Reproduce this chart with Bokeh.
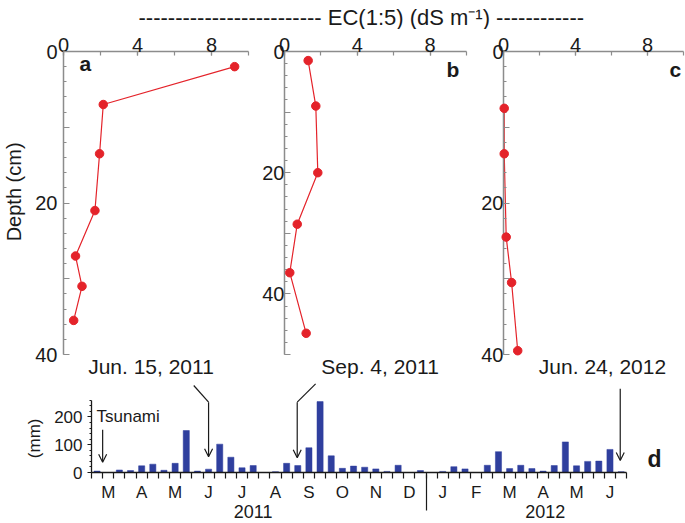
from bokeh.plotting import figure
from bokeh.layouts import column, row
from bokeh.models import Range1d, FixedTicker, Label, Arrow, OpenHead, LinearAxis
from bokeh.embed import file_html
from bokeh.resources import INLINE

FONT = "Liberation Sans"
RED = "#E4232A"
BLUE = "#2F3F9E"
GRAY = "#8C8C8C"
INK = "#1a1a1a"
NB = "\u00a0"

# ---- data -------------------------------------------------------------
# EC(1:5) profiles (dS m-1) vs depth (cm)
ec_a = [9.25, 2.15, 1.95, 1.7, 0.65, 1.0, 0.55]
depth_a = [2.0, 7.0, 13.5, 21.0, 27.0, 31.0, 35.5]
ec_b = [1.3, 1.72, 1.83, 0.7, 0.29, 1.19]
depth_b = [1.5, 9.0, 20.0, 28.5, 36.5, 46.5]
ec_c = [0.04, 0.04, 0.15, 0.45, 0.79]
depth_c = [7.5, 13.5, 24.5, 30.5, 39.5]
panel_letters = ["a", "b", "c"]
sample_dates = ["Jun. 15, 2011", "Sep. 4, 2011", "Jun. 24, 2012"]
ec_tick_values = [0, 4, 8]
depth_tick_values = [0, 20, 40]

# dekadal rainfall (mm), Mar 2011 - Jun 2012
rain_mm = [5, 0, 9, 7, 24, 30, 8, 33, 151, 5, 12, 102, 55, 17, 25, 0,
           3, 33, 25, 89, 255, 60, 15, 23, 19, 13, 4, 26, 0, 7,
           0, 4, 21, 13, 0, 26, 75, 14, 26, 14, 5, 25, 110, 24, 40, 41, 83, 3]
month_labels = ["M", "A", "M", "J", "J", "A", "S", "O", "N", "D",
                "J", "F", "M", "A", "M", "J"]
year_labels = ["2011", "2012"]
rain_tick_values = [0, 100, 200]

TITLE = "-" * 25 + "  EC(1:5) (dS m\u207b\u00b9)  " + "-" * 12

# ---- layout geometry (page px) ---------------------------------------
TITLE_H = 29
TOP_H = 351
BOT_H = 143
FRAME_BOTTOM = TITLE_H + TOP_H - 24  # 356
D_LEFT = 91


def lab(p, fl, fb, px, py, text, size, **kw):
    p.add_layout(Label(x=px - fl, y=fb - py, x_units="screen", y_units="screen",
                       text=text, text_font=FONT, text_font_size=f"{size}px",
                       text_color=INK, **kw))


def profile(width, mbl, mbr, depth_max, ec, depth, standoff, date, date_x):
    p = figure(width=width, height=TOP_H, x_range=Range1d(0, 10),
               y_range=Range1d(depth_max, 0), x_axis_location="above",
               output_backend="svg", toolbar_location=None,
               min_border_left=mbl, min_border_right=mbr,
               min_border_top=22, min_border_bottom=24)
    p.grid.visible = False
    p.outline_line_color = None
    for ax in (p.xaxis[0], p.yaxis[0]):
        ax.axis_line_color = GRAY
        ax.axis_line_width = 1.5
        ax.major_tick_line_color = GRAY
        ax.minor_tick_line_color = GRAY
        ax.major_tick_line_width = 1.2
        ax.minor_tick_line_width = 1.2
        ax.major_tick_out = 0
        ax.minor_tick_out = 0
        ax.major_label_text_font = FONT
        ax.major_label_text_font_size = "20px"
        ax.major_label_text_color = INK
    xa = p.xaxis[0]
    xa.ticker = FixedTicker(ticks=ec_tick_values, minor_ticks=[0, 2, 4, 6, 8, 10])
    xa.major_tick_in = 4
    xa.minor_tick_in = 4
    xa.major_label_standoff = 0
    ya = p.yaxis[0]
    majors = list(range(0, depth_max + 1, 10))
    ya.ticker = FixedTicker(ticks=majors, minor_ticks=list(range(0, depth_max + 1, 2)))
    ya.major_label_overrides = {m: "" for m in majors if m not in depth_tick_values}
    ya.major_tick_in = 6
    ya.minor_tick_in = 3
    ya.major_label_standoff = standoff
    # sampling date written under the panel
    da = LinearAxis(ticker=FixedTicker(ticks=[date_x], minor_ticks=[]),
                    major_label_overrides={date_x: date},
                    axis_line_color=None, major_tick_in=0, major_tick_out=0,
                    minor_tick_in=0, minor_tick_out=0, major_label_standoff=0,
                    major_label_text_font=FONT, major_label_text_font_size="21px",
                    major_label_text_color=INK)
    p.add_layout(da, "below")
    p.line(ec, depth, line_color=RED, line_width=1.2)
    p.scatter(ec, depth, size=8.5, fill_color=RED, line_color=RED, level="overlay")
    return p


# title strip (frame aligned with panel d frame)
pt = figure(width=685, height=TITLE_H, x_range=Range1d(0, 1), y_range=Range1d(0, 1),
            x_axis_location=None, y_axis_location=None, output_backend="svg",
            toolbar_location=None, min_border=0, min_border_left=D_LEFT)
pt.grid.visible = False
pt.outline_line_color = None
lab(pt, D_LEFT, TITLE_H, 138, 17, TITLE, 22, text_baseline="middle")

# panel a : page x 0..251, frame 62..248
pa = profile(251, 62, 3, 40, ec_a, depth_a, 6, sample_dates[0], 4.73)
pa.yaxis[0].axis_label = NB * 4 + "Depth (cm)"
pa.yaxis[0].axis_label_standoff = 7
pa.yaxis[0].axis_label_text_font = FONT
pa.yaxis[0].axis_label_text_font_size = "20px"
pa.yaxis[0].axis_label_text_font_style = "normal"
pa.yaxis[0].axis_label_text_color = INK
lab(pa, 62, FRAME_BOTTOM, 78, 76, panel_letters[0], 21, text_font_style="bold")

# panel b : page x 251..470, frame 284..466
pb = profile(219, 33, 4, 50, ec_b, depth_b, 0, sample_dates[1], 5.25)
lab(pb, 284, FRAME_BOTTOM, 446, 82, panel_letters[1], 21, text_font_style="bold")

# panel c : page x 470..685, frame 503..683
pc = profile(215, 33, 2, 40, ec_c, depth_c, 0, sample_dates[2], 5.5)
lab(pc, 503, FRAME_BOTTOM, 669, 82, panel_letters[2], 21, text_font_style="bold")

# ---- rainfall panel d : page y 380..523, frame x 91..685, y 380..472 ----
N = len(rain_mm)
PX_PER_DEK = 11.15
PX_PER_MM = 0.278
pd_ = figure(width=685, height=BOT_H, x_range=Range1d(0, 594 / PX_PER_DEK),
             y_range=Range1d(0, 92 / PX_PER_MM), output_backend="svg",
             toolbar_location=None, min_border_left=D_LEFT, min_border_right=0,
             min_border_top=0, min_border_bottom=51)
pd_.grid.visible = False
pd_.outline_line_color = None
pd_.vbar(x=[i + 0.5 for i in range(N)], top=rain_mm, width=0.55,
         fill_color=BLUE, line_color=BLUE, line_width=0.5)

xa = pd_.xaxis[0]
centers = [1.5 + 3 * i for i in range(len(month_labels))]
xa.ticker = FixedTicker(ticks=centers, minor_ticks=list(range(N + 1)))
xa.major_label_overrides = {c: m for c, m in zip(centers, month_labels)}
xa.bounds = (0, N)
xa.major_tick_in = 0
xa.major_tick_out = 0
xa.minor_tick_in = 0
xa.minor_tick_out = 6
xa.major_label_standoff = 4
ya = pd_.yaxis[0]
ya.ticker = FixedTicker(ticks=rain_tick_values, minor_ticks=list(range(0, 261, 20)))
ya.bounds = (0, 260)
ya.major_tick_in = 0
ya.major_tick_out = 4
ya.minor_tick_in = 0
ya.minor_tick_out = 2
ya.major_label_standoff = 5
ya.axis_label = "(mm)" + NB * 5
ya.axis_label_standoff = 7
ya.axis_label_text_font = FONT
ya.axis_label_text_font_size = "17px"
ya.axis_label_text_font_style = "normal"
ya.axis_label_text_color = INK

# year axis with the 2011 / 2012 divider
year_pos = [14.5, 40.7]
yax = LinearAxis(ticker=FixedTicker(ticks=year_pos, minor_ticks=[30]),
                 major_label_overrides={y: t for y, t in zip(year_pos, year_labels)},
                 axis_line_color=None, major_tick_in=0, major_tick_out=0,
                 minor_tick_in=30, minor_tick_out=6, major_label_standoff=-6)
pd_.add_layout(yax, "below")

for ax in (xa, ya, yax):
    ax.major_tick_line_color = INK
    ax.minor_tick_line_color = INK
    ax.minor_tick_line_width = 1.2
    ax.major_tick_line_width = 1.2
    ax.major_label_text_font = FONT
    ax.major_label_text_font_size = "17px"
    ax.major_label_text_color = INK
for ax in (xa, ya):
    ax.axis_line_color = INK
    ax.axis_line_width = 1.3
yax.major_label_text_font_size = "18px"


def head():
    return OpenHead(size=8, line_color=INK, line_width=1.2)


def seg(x0, y0, x1, y1, arrow=False):
    pd_.add_layout(Arrow(x_start=x0, y_start=y0, x_end=x1, y_end=y1,
                         line_color=INK, line_width=1.2,
                         end=head() if arrow else None))


# Tsunami (Mar 11, 2011)
seg(1.0, 154, 1.0, 37, arrow=True)
# Jun 15, 2011
seg(9.17, 313, 10.5, 253)
seg(10.5, 253, 10.5, 57, arrow=True)
# Sep 4, 2011
seg(20.1, 319, 18.45, 253)
seg(18.45, 253, 18.45, 53, arrow=True)
# Jun 24, 2012
seg(47.42, 301, 47.42, 43, arrow=True)

lab(pd_, D_LEFT, 472, 96, 425, "Tsunami", 17)
lab(pd_, D_LEFT, 472, 647, 471, "d", 23, text_font_style="bold")

layout = column(pt, row(pa, pb, pc), pd_)
open("out.html", "w").write(file_html(layout, INLINE))
